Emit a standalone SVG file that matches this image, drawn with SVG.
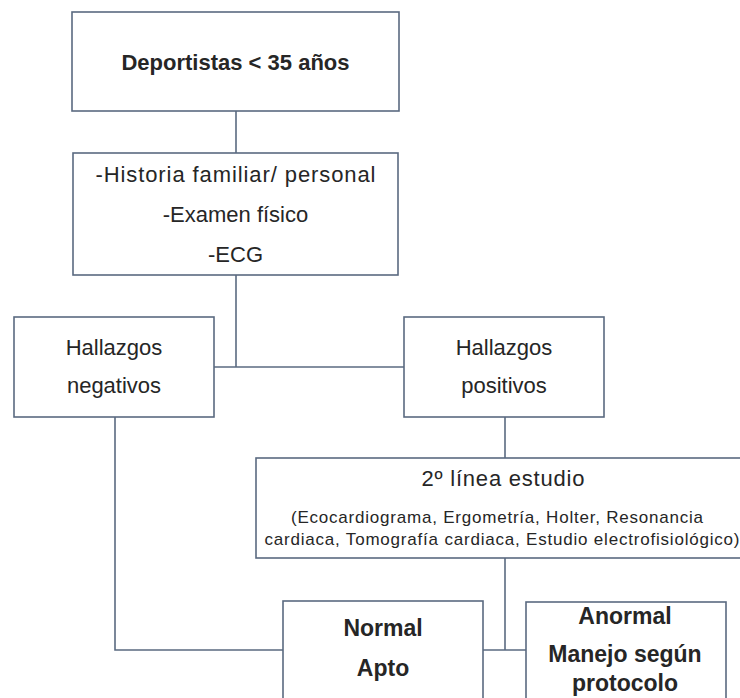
<svg xmlns="http://www.w3.org/2000/svg" width="740" height="698" viewBox="0 0 740 698">
<style>
.box{fill:#fff;stroke:#5a6a80;stroke-width:1.6}
.ln{fill:none;stroke:#5a6a80;stroke-width:1.6}
.t{font-family:"Liberation Sans",Arial,sans-serif;font-size:22px;fill:#262626;text-anchor:middle}
.b{font-weight:bold;font-size:23px}
.s{font-size:17px}
</style>
<rect width="740" height="698" fill="#fff"/>
<g id="connectors">
<path class="ln" d="M236,111V153"/>
<path class="ln" d="M236,275V367"/>
<path class="ln" d="M214,367H404"/>
<path class="ln" d="M505,417V458"/>
<path class="ln" d="M115,417V650H283"/>
<path class="ln" d="M505,558V650"/>
<path class="ln" d="M483,650H526"/>
</g>
<g id="n1">
<rect class="box" x="72" y="12" width="327" height="99"/>
<text class="t b" x="235.5" y="70" style="font-size:22px">Deportistas &lt; 35 años</text>
</g>
<g id="n2">
<rect class="box" x="73" y="153" width="325" height="122"/>
<text class="t" x="235.5" y="182" textLength="280" lengthAdjust="spacing">-Historia familiar/ personal</text>
<text class="t" x="235.5" y="222">-Examen físico</text>
<text class="t" x="235.5" y="262">-ECG</text>
</g>
<g id="n3">
<rect class="box" x="14" y="317" width="200" height="100"/>
<text class="t" x="114" y="355">Hallazgos</text>
<text class="t" x="114" y="393">negativos</text>
</g>
<g id="n4">
<rect class="box" x="404" y="317" width="200" height="100"/>
<text class="t" x="504" y="355">Hallazgos</text>
<text class="t" x="504" y="393">positivos</text>
</g>
<g id="n5">
<rect class="box" x="256" y="458" width="500" height="100"/>
<text class="t" x="503" y="486" textLength="163" lengthAdjust="spacing">2º línea estudio</text>
<text class="t s" x="497" y="523" textLength="412" lengthAdjust="spacing">(Ecocardiograma, Ergometría, Holter, Resonancia</text>
<text class="t s" x="502" y="545" textLength="475" lengthAdjust="spacing">cardiaca, Tomografía cardiaca, Estudio electrofisiológico)</text>
</g>
<g id="n6">
<rect class="box" x="283" y="601" width="200" height="110"/>
<text class="t b" x="383" y="636">Normal</text>
<text class="t b" x="383" y="676">Apto</text>
</g>
<g id="n7">
<rect class="box" x="526" y="602" width="200" height="110"/>
<text class="t b" x="625" y="624">Anormal</text>
<text class="t b" x="625" y="662">Manejo según</text>
<text class="t b" x="625" y="691">protocolo</text>
</g>
</svg>
